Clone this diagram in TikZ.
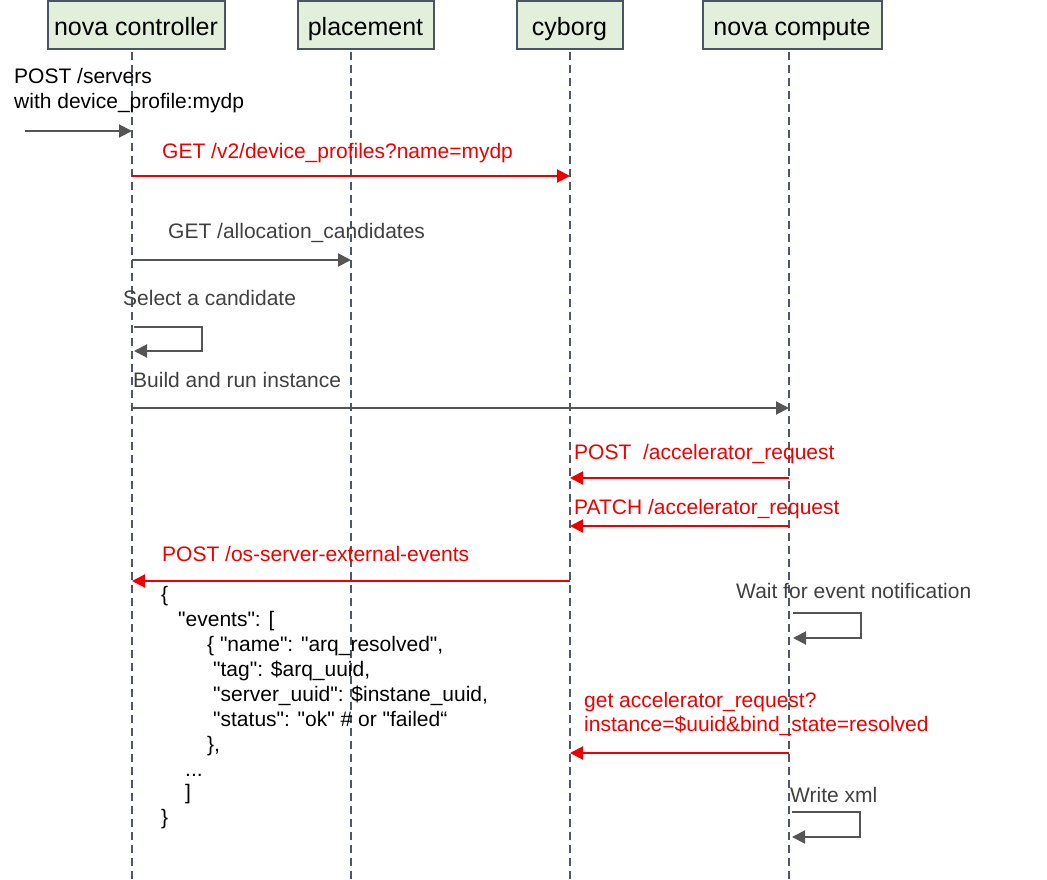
\documentclass[tikz,border=0pt]{standalone}
\usepackage{fontspec}
\setmainfont{Liberation Sans}[Ligatures=TeXOff]
\usetikzlibrary{arrows.meta}
\definecolor{hdrfill}{HTML}{E2EFDA}
\definecolor{hdrdraw}{HTML}{4A5563}
\definecolor{lifecol}{HTML}{4D5966}
\definecolor{msggray}{HTML}{555555}
\definecolor{txtgray}{HTML}{404040}
\definecolor{msgred}{HTML}{EE0000}
\newcommand\msgline[4]{\draw[#1] ([yshift=-#4pt]#2) -- ([yshift=-#4pt]#3);}
\begin{document}
\begin{tikzpicture}[x=1pt,y=-1pt,
 hdr/.style={draw=hdrdraw, line width=2pt, fill=hdrfill, minimum height=48pt, inner sep=0pt, text height=22pt, text depth=2pt, font=\fontsize{25}{30}\selectfont},
 lifeline/.style={draw=lifecol, line width=2pt, dash pattern=on 8pt off 5pt},
 garrow/.style={draw=msggray, line width=2pt, -{Triangle[length=13pt,width=13pt]}},
 rarrow/.style={draw=msgred, line width=2pt, -{Triangle[length=13pt,width=13pt]}},
 lbl/.style={anchor=base west, inner sep=0pt, font=\fontsize{21}{25}\selectfont},
 blk/.style={lbl, text=black},
 gry/.style={lbl, text=txtgray},
 redlbl/.style={lbl, text=msgred},
]
\useasboundingbox (0,0) rectangle (1047,879);
% lifelines
\coordinate (ncT) at (132,0);  \coordinate (ncB) at (132,879);
\coordinate (plT) at (351,0);  \coordinate (plB) at (351,879);
\coordinate (cyT) at (570,0);  \coordinate (cyB) at (570,879);
\coordinate (cpT) at (789,0);  \coordinate (cpB) at (789,879);
\draw[lifeline] (ncT) -- (ncB);
\draw[lifeline] (plT) -- (plB);
\draw[lifeline] (cyT) -- (cyB);
\draw[lifeline] (cpT) -- (cpB);
% headers
\node[hdr, minimum width=177pt] (nc) at (136,25) {nova controller};
\node[hdr, minimum width=136pt] (pl) at (365.5,25) {placement};
\node[hdr, minimum width=106pt] (cy) at (569.5,25) {cyborg};
\node[hdr, minimum width=179pt] (cp) at (792,25) {nova compute};
% POST /servers
\node[blk] (t1a) at (14,83) {POST /servers};
\node[blk] (t1b) at (14,108) {with device\_profile:mydp};
\coordinate (in) at (25,131);
\draw[garrow] (in) -- ([yshift=-131pt]ncT);
% GET device profiles
\node[redlbl] (t2) at (162,158) {GET /v2/device\_profiles?name=mydp};
\msgline{rarrow}{ncT}{cyT}{176}
% GET allocation candidates
\node[gry] (t3) at (168,238) {GET /allocation\_candidates};
\msgline{garrow}{ncT}{plT}{260}
% Select a candidate
\node[gry] (t4) at (123,305) {Select a candidate};
\draw[garrow] ([shift={(2pt,-327pt)}]ncT) -- ++(68,0) -- ++(0,24) -- ([shift={(2pt,-351pt)}]ncT);
% Build and run
\node[gry] (t5) at (133,387) {Build and run instance};
\msgline{garrow}{ncT}{cpT}{408}
% accelerator requests
\node[redlbl] (t6) at (574,459) {POST\ \ /accelerator\_request};
\msgline{rarrow}{cpT}{cyT}{478}
\node[redlbl] (t7) at (574,514) {PATCH /accelerator\_request};
\msgline{rarrow}{cpT}{cyT}{526}
% external events
\node[redlbl] (t8) at (162,561) {POST /os-server-external-events};
\msgline{rarrow}{cyT}{ncT}{581}
% JSON body
\node[blk] (j1) at (161,601) {\{};
\node[blk] (j2) at (178,626) {"events": [};
\node[blk] (j3) at (207,651) {\{ "name": "arq\_resolved",};
\node[blk] (j4) at (213,676) {"tag": \$arq\_uuid,};
\node[blk] (j5) at (213,701) {"server\_uuid": \$instane\_uuid,};
\node[blk] (j6) at (213,726) {"status": "ok" \# or "failed“};
\node[blk] (j7) at (207,751) {\},};
\node[blk] (j8) at (185,776) {...};
\node[blk] (j9) at (185,799) {]};
\node[blk] (j10) at (161,824) {\}};
% wait for event
\node[gry] (t9) at (736,598) {Wait for event notification};
\draw[garrow] ([shift={(4pt,-613pt)}]cpT) -- ++(68,0) -- ++(0,25) -- ([shift={(4pt,-638pt)}]cpT);
% get accelerator request
\node[redlbl] (t10a) at (584,707) {get accelerator\_request?};
\node[redlbl] (t10b) at (584,731) {instance=\$uuid\&bind\_state=resolved};
\msgline{rarrow}{cpT}{cyT}{753}
% write xml
\node[gry] (t11) at (790,802) {Write xml};
\draw[garrow] ([shift={(3pt,-812pt)}]cpT) -- ++(68,0) -- ++(0,25) -- ([shift={(3pt,-837pt)}]cpT);
\end{tikzpicture}
\end{document}
